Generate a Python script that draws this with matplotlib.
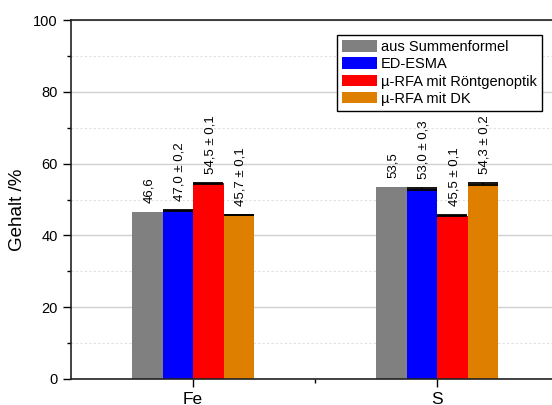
import matplotlib
matplotlib.use("Agg")
import matplotlib.pyplot as plt
import numpy as np
from matplotlib.ticker import MultipleLocator, FixedLocator

plt.rcParams['font.family'] = ['Liberation Sans', 'DejaVu Sans']

categories = ["Fe", "S"]
series = ["aus Summenformel", "ED-ESMA", "µ-RFA mit Röntgenoptik", "µ-RFA mit DK"]
colors = ["#808080", "#0000FF", "#FF0000", "#DE7F00"]
values = [
    [46.6, 53.5],
    [47.0, 53.0],
    [54.5, 45.5],
    [45.7, 54.3],
]
errors = [
    [None, None],
    [0.2, 0.3],
    [0.1, 0.1],
    [0.1, 0.2],
]
labels = [
    ["46,6", "53,5"],
    ["47,0 ± 0,2", "53,0 ± 0,3"],
    ["54,5 ± 0,1", "45,5 ± 0,1"],
    ["45,7 ± 0,1", "54,3 ± 0,2"],
]

fig = plt.figure(figsize=(5.52, 4.05), dpi=100)
ax = fig.add_axes([71/552, 26/405, (559-71)/552, (379-20)/405])

x = np.arange(len(categories))
w = 0.125
for i in range(len(series)):
    xs = x + (i - 1.5) * w
    ax.bar(xs, values[i], width=w, color=colors[i], label=series[i], zorder=2)
    for j in range(len(categories)):
        top = values[i][j]
        e = errors[i][j]
        if e is not None:
            ax.errorbar(xs[j], values[i][j], yerr=e, fmt='none', ecolor='black',
                        capsize=10.5, capthick=1.3, elinewidth=1.3, zorder=3)
            top += e
        ax.annotate(labels[i][j], (xs[j], top), xytext=(1.5, 6.5), textcoords='offset points',
                    rotation=90, ha='center', va='bottom', fontsize=9.5)

ax.set_xlim(-0.5, 1.5)
ax.set_ylim(0, 100)
ax.set_xticks(x)
ax.set_xticklabels(categories, fontsize=12.5)
ax.xaxis.set_minor_locator(FixedLocator([0.5]))
ax.yaxis.set_major_locator(MultipleLocator(20))
ax.yaxis.set_minor_locator(MultipleLocator(10))
ax.tick_params(axis='y', which='major', direction='out', length=6, width=1, labelsize=10.5)
ax.tick_params(axis='y', which='minor', direction='out', length=3, width=1)
ax.tick_params(axis='x', which='major', direction='out', length=6, width=1, pad=3)
ax.tick_params(axis='x', which='minor', direction='out', length=3, width=1)
ax.tick_params(axis='y', which='major', right=True, labelright=False)
fig.text(17.5/552, 1 - 210/405, "Gehalt /%", rotation=90, ha='center', va='center',
         fontsize=13.5)

ax.grid(axis='y', which='major', color='#d0d0d0', linewidth=1, zorder=0)
ax.grid(axis='y', which='minor', color='#e0e0e0', linewidth=0.8, linestyle=(0, (2, 2)), zorder=0)
ax.set_axisbelow(True)
for s in ax.spines.values():
    s.set_linewidth(1.2)
    s.set_color('#222222')

leg = ax.legend(loc='upper right', bbox_to_anchor=(542/552, 1-35/405),
                bbox_transform=fig.transFigure, fontsize=10.5, frameon=True,
                fancybox=False, framealpha=1, edgecolor='black',
                handlelength=2.4, handleheight=0.85, handletextpad=0.3,
                labelspacing=0.22, borderpad=0.35, borderaxespad=0)
leg.get_frame().set_linewidth(1.0)

fig.savefig("out.png", dpi=100)
